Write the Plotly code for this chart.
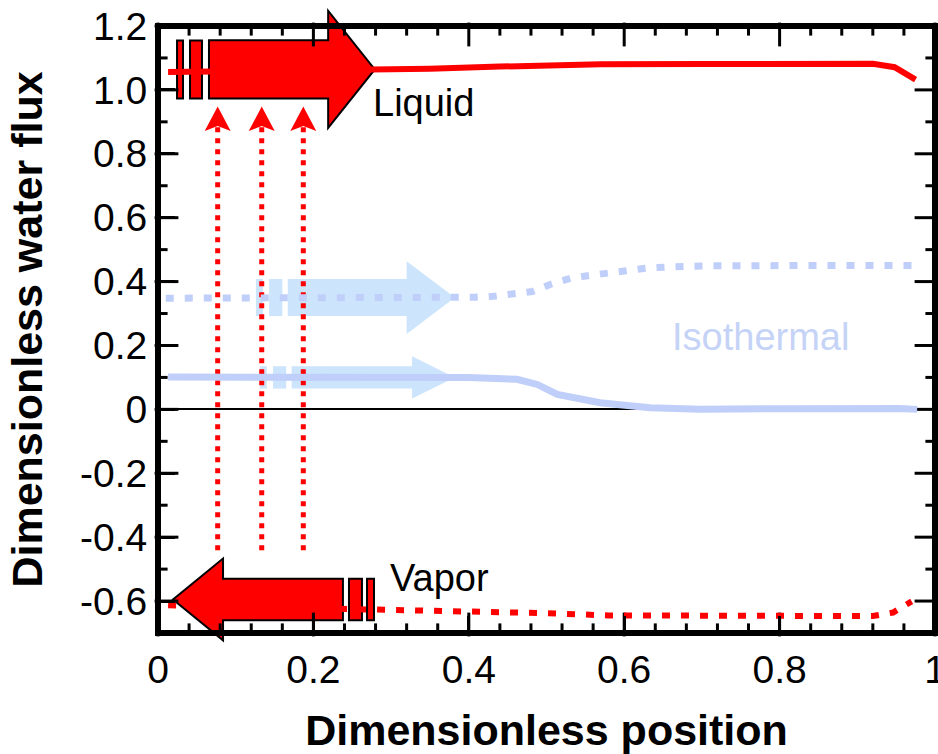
import plotly.graph_objects as go

# Axis extents
X_RANGE = [0.0, 1.0]
Y_RANGE = [-0.7, 1.2]

# Non-isothermal liquid flux (solid red)
liquid_pos = [0.013, 0.10, 0.20, 0.28, 0.35, 0.44, 0.50, 0.57, 0.70, 0.80, 0.90, 0.92, 0.948, 0.975]
liquid_flux = [1.056, 1.058, 1.061, 1.064, 1.066, 1.073, 1.077, 1.080, 1.081, 1.082, 1.083, 1.082, 1.071, 1.032]

# Non-isothermal vapor flux (dotted red)
vapor_pos = [0.013, 0.10, 0.20, 0.25, 0.286, 0.35, 0.42, 0.50, 0.58, 0.70, 0.80, 0.92, 0.946, 0.970]
vapor_flux = [-0.613, -0.617, -0.621, -0.623, -0.626, -0.630, -0.634, -0.638, -0.645, -0.647, -0.648, -0.647, -0.636, -0.601]

# Isothermal liquid flux (solid light blue)
iso_liquid_pos = [0.013, 0.20, 0.40, 0.462, 0.488, 0.514, 0.569, 0.633, 0.698, 0.80, 0.90, 0.955, 0.977]
iso_liquid_flux = [0.101, 0.101, 0.100, 0.094, 0.078, 0.047, 0.021, 0.005, 0.000, 0.002, 0.004, 0.003, 0.000]

# Isothermal vapor flux (dotted light blue)
iso_vapor_pos = [0.010, 0.20, 0.381, 0.408, 0.432, 0.457, 0.482, 0.507, 0.531, 0.555, 0.579, 0.605, 0.628, 0.652, 0.70, 0.80, 0.90, 0.972]
iso_vapor_flux = [0.348, 0.348, 0.348, 0.351, 0.354, 0.359, 0.369, 0.393, 0.410, 0.419, 0.428, 0.437, 0.442, 0.445, 0.449, 0.450, 0.450, 0.450]

# Tick positions
x_major_ticks = [0.0, 0.2, 0.4, 0.6, 0.8, 1.0]
x_minor_ticks = [0.04, 0.08, 0.12, 0.16, 0.24, 0.28, 0.32, 0.36, 0.44, 0.48, 0.52, 0.56,
                 0.64, 0.68, 0.72, 0.76, 0.84, 0.88, 0.92, 0.96]
y_major_ticks = [-0.6, -0.4, -0.2, 0.0, 0.2, 0.4, 0.6, 0.8, 1.0, 1.2]
y_minor_ticks = [-0.5, -0.3, -0.1, 0.1, 0.3, 0.5, 0.7, 0.9, 1.1]

# Tick label spellings (default label -> printed label)
y_tick_alias = {"1": "1.0", "\u22120.2": "-0.2", "\u22120.4": "-0.4", "\u22120.6": "-0.6"}

RED = "#ff0000"
INK = "#000000"
ISO_LINE = "#c0cff9"
ISO_FILL = "#cce4fc"
ISO_TEXT = "#c5d3f7"
FONT = "Liberation Sans, Arial, sans-serif"

WIDTH, HEIGHT = 938, 754
MARGIN = dict(l=158, r=3, t=26, b=121)
PLOT_W = WIDTH - MARGIN["l"] - MARGIN["r"]
PLOT_H = HEIGHT - MARGIN["t"] - MARGIN["b"]
MAJOR_LEN, MINOR_LEN, FRAME_W = 17, 8, 3


def dx(v):
    return (v - X_RANGE[0]) / (X_RANGE[1] - X_RANGE[0])


def dy(v):
    return (v - Y_RANGE[0]) / (Y_RANGE[1] - Y_RANGE[0])


def path_of(points):
    return "M " + " L ".join(f"{dx(x):.5f},{dy(y):.5f}" for x, y in points) + " Z"


def block_arrow(tail, neck, tip, mid, shaft, head):
    return [(tail, mid + shaft), (neck, mid + shaft), (neck, mid + head), (tip, mid),
            (neck, mid - head), (neck, mid - shaft), (tail, mid - shaft)]


def flow_arrow_shapes(spec, fill, outline):
    line = dict(color=outline, width=2) if outline else dict(width=0)
    shapes = [dict(type="path", xref="x domain", yref="y domain", layer="below",
                   path=path_of(block_arrow(spec["tail"], spec["neck"], spec["tip"],
                                            spec["mid"], spec["shaft"], spec["head"])),
                   fillcolor=fill, line=line)]
    for x0, x1 in spec["bars"]:
        shapes.append(dict(type="rect", xref="x domain", yref="y domain", layer="below",
                           x0=dx(x0), x1=dx(x1),
                           y0=dy(spec["mid"] - spec["shaft"]), y1=dy(spec["mid"] + spec["shaft"]),
                           fillcolor=fill, line=line))
    return shapes


def tick_markers(vals, length, side):
    """Centres of inward tick marks drawn as line-shaped markers of the given length."""
    y_lo, y_hi = Y_RANGE
    x_lo, x_hi = X_RANGE
    xs, ys = [], []
    if side == "x":
        h = length / PLOT_H * (y_hi - y_lo) / 2
        for v in vals:
            xs += [v, v]
            ys += [y_lo + h, y_hi - h]
    else:
        w = length / PLOT_W * (x_hi - x_lo) / 2
        for v in vals:
            xs += [x_lo + w, x_hi - w]
            ys += [v, v]
    return xs, ys


# Direction-of-flow arrows
liquid_arrow = dict(tail=0.0656, neck=0.219, tip=0.279, mid=1.064, shaft=0.091, head=0.183,
                    bars=[(0.0245, 0.0322), (0.0412, 0.0566)])
vapor_arrow = dict(tail=0.238, neck=0.0837, tip=0.0193, mid=-0.595, shaft=0.065, head=0.128,
                   bars=[(0.2458, 0.2625), (0.269, 0.278)])
iso_vapor_arrow = dict(tail=0.167, neck=0.320, tip=0.382, mid=0.35, shaft=0.058, head=0.114,
                       bars=[(0.126, 0.135), (0.143, 0.160)])
iso_liquid_arrow = dict(tail=0.172, neck=0.327, tip=0.382, mid=0.100, shaft=0.035, head=0.066,
                        bars=[(0.131, 0.140), (0.148, 0.165)])

# Condensation arrows from vapor up to liquid
cond_x = [0.0768, 0.1335, 0.187]
cond_bottom = -0.441
cond_notch = 0.892
cond_tip = 0.948
cond_base = 0.871
cond_half_w = 0.0167

shapes = []
shapes += flow_arrow_shapes(iso_vapor_arrow, ISO_FILL, None)
shapes += flow_arrow_shapes(iso_liquid_arrow, ISO_FILL, None)
for cx in cond_x:
    shapes.append(dict(type="line", xref="x domain", yref="y domain", layer="below",
                       x0=dx(cx), x1=dx(cx), y0=dy(cond_bottom), y1=dy(cond_notch),
                       line=dict(color=RED, width=5, dash="5px,6px")))
    shapes.append(dict(type="path", xref="x domain", yref="y domain", layer="below",
                       path=path_of([(cx, cond_tip), (cx - cond_half_w, cond_base),
                                     (cx, cond_notch - 0.005), (cx + cond_half_w, cond_base)]),
                       fillcolor=RED, line=dict(width=0)))
shapes += flow_arrow_shapes(liquid_arrow, RED, INK)
shapes += flow_arrow_shapes(vapor_arrow, RED, INK)

fig = go.Figure()

# Plot frame (double width; the outer half is clipped away at the plot edge)
fig.add_trace(go.Scatter(
    x=[X_RANGE[0], X_RANGE[1], X_RANGE[1], X_RANGE[0], X_RANGE[0]],
    y=[Y_RANGE[0], Y_RANGE[0], Y_RANGE[1], Y_RANGE[1], Y_RANGE[0]],
    mode="lines", line=dict(color=INK, width=2 * FRAME_W), hoverinfo="skip", name="frame"))

# Inward ticks on all four sides
for vals, length, side, symbol in ((x_major_ticks, MAJOR_LEN, "x", "line-ns"),
                                   (x_minor_ticks, MINOR_LEN, "x", "line-ns"),
                                   (y_major_ticks, MAJOR_LEN, "y", "line-ew"),
                                   (y_minor_ticks, MINOR_LEN, "y", "line-ew")):
    tx, ty = tick_markers(vals, length, side)
    fig.add_trace(go.Scatter(x=tx, y=ty, mode="markers", hoverinfo="skip", cliponaxis=False,
                             marker=dict(symbol=symbol, size=length, color=INK,
                                         line=dict(color=INK, width=FRAME_W))))

fig.add_trace(go.Scatter(x=iso_vapor_pos, y=iso_vapor_flux, mode="lines", name="Isothermal vapor",
                         line=dict(color=ISO_LINE, width=7, dash="8px,11px")))
fig.add_trace(go.Scatter(x=iso_liquid_pos, y=iso_liquid_flux, mode="lines", name="Isothermal liquid",
                         line=dict(color=ISO_LINE, width=7)))
fig.add_trace(go.Scatter(x=liquid_pos, y=liquid_flux, mode="lines", name="Liquid",
                         line=dict(color=RED, width=6)))
fig.add_trace(go.Scatter(x=vapor_pos, y=vapor_flux, mode="lines", name="Vapor",
                         line=dict(color=RED, width=6, dash="8px,11px")))

axis_common = dict(
    showline=True, linecolor=INK, linewidth=FRAME_W, mirror=True,
    ticks="inside", ticklen=MAJOR_LEN, tickwidth=FRAME_W, tickcolor=INK,
    showgrid=False, tickmode="linear",
    ticklabeloverflow="allow",
    tickfont=dict(family=FONT, size=39, color=INK),
)

fig.update_xaxes(
    range=X_RANGE, tick0=0, dtick=0.2, zeroline=False,
    title=dict(text="Dimensionless position", font=dict(family=FONT, size=43, color=INK, weight="bold"),
               standoff=26),
    **axis_common,
)
fig.update_yaxes(
    range=Y_RANGE, tick0=0, dtick=0.2, labelalias=y_tick_alias,
    zeroline=True, zerolinecolor=INK, zerolinewidth=2,
    title=dict(text="Dimensionless water flux", font=dict(family=FONT, size=43, color=INK, weight="bold"),
               standoff=24),
    **axis_common,
)

fig.update_layout(
    template="none",
    width=WIDTH, height=HEIGHT,
    margin=dict(**MARGIN, autoexpand=False),
    plot_bgcolor="white", paper_bgcolor="white",
    showlegend=False,
    shapes=shapes,
    annotations=[
        dict(x=0.342, y=0.958, text="Liquid", showarrow=False, xanchor="center", yanchor="middle",
             font=dict(family=FONT, size=38, color=INK)),
        dict(x=0.362, y=-0.529, text="Vapor", showarrow=False, xanchor="center", yanchor="middle",
             font=dict(family=FONT, size=38, color=INK)),
        dict(x=0.775, y=0.228, text="Isothermal", showarrow=False, xanchor="center", yanchor="middle",
             font=dict(family=FONT, size=38, color=ISO_TEXT)),
    ],
)

fig.write_html("out.html")
